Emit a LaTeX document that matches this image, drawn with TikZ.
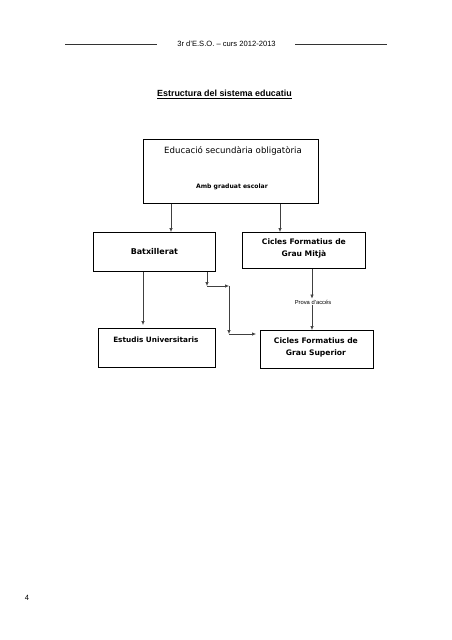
\documentclass[tikz,border=0pt]{standalone}
\usepackage{fontspec}
\setmainfont{Liberation Sans}
\newfontfamily\boxfont{DejaVu Sans}
\usetikzlibrary{arrows.meta,calc}
\begin{document}
\begin{tikzpicture}[x=1pt,y=-1pt,
  box/.style={draw,line width=0.8pt,anchor=north west,inner sep=0pt},
  conn/.style={draw=black!75,line width=0.6pt,-{Latex[length=4pt,width=3.4pt]}},
  btxt/.style={font=\boxfont\fontsize{7.6}{11.5}\selectfont\bfseries,align=center,inner sep=0pt},
  rule/.style={line width=0.8pt,black!80}]
\useasboundingbox (0,0) rectangle (452,640);
% header
\node[font=\fontsize{7.6}{9}\selectfont,inner sep=0pt] (hdr) at (226.5,44) {3r d'E.S.O. – curs 2012-2013};
\draw[rule] (65,44) -- (157,44);
\draw[rule] (295,44) -- (387,44);
\node[font=\fontsize{8.9}{10}\selectfont\bfseries,inner sep=0pt] (ttl) at (224.5,93) {Estructura del sistema educatiu};
\draw[line width=0.5pt] (ttl.south west) ++(0,1.3) -- ($(ttl.south east)+(0,1.3)$);
\node[font=\fontsize{7.6}{9}\selectfont,inner sep=0pt] (pg) at (27,598) {4};
% boxes
\node[box,minimum width=175pt,minimum height=64pt] (eso) at (143,139) {};
\node[font=\boxfont\fontsize{8.6}{10}\selectfont,inner sep=0pt] (esot) at (233,151) {Educació secundària obligatòria};
\node[font=\boxfont\fontsize{6.1}{7}\selectfont\bfseries,inner sep=0pt] (esot2) at (232,187) {Amb graduat escolar};
\node[box,minimum width=122pt,minimum height=39pt] (bat) at (93,232) {};
\node[btxt,font=\boxfont\fontsize{8.0}{11.5}\selectfont\bfseries] at (bat.center) {Batxillerat};
\node[box,minimum width=123pt,minimum height=36pt] (cfgm) at (242,232) {};
\node[btxt] at ($(cfgm.center)+(0,-2)$) {Cicles Formatius de\\Grau Mitjà};
\node[box,minimum width=117pt,minimum height=39pt] (eu) at (98,328) {};
\node[btxt,font=\boxfont\fontsize{7.3}{11.5}\selectfont\bfseries] at ($(eu.north)+(-1,12)$) {Estudis Universitaris};
\node[box,minimum width=113pt,minimum height=38pt] (cfgs) at (260,330) {};
\node[btxt] at ($(cfgs.center)+(-1,-2)$) {Cicles Formatius de\\Grau Superior};
\node[font=\fontsize{5.8}{7}\selectfont,inner sep=1pt] (prova) at (313,302) {Prova d'accés};
% helper coordinates
\coordinate (xa) at (171,0);
\coordinate (xb) at (280,0);
\coordinate (xc) at (143,0);
\coordinate (xd) at (312,0);
\coordinate (j1) at (207,286);
\coordinate (j2) at (229,286);
\coordinate (j3) at (229,334);
\coordinate (j4) at (256,334);
% connectors
\draw[conn] (eso.south -| xa) -- (bat.north -| xa);
\draw[conn] (eso.south -| xb) -- (cfgm.north -| xb);
\draw[conn] (bat.south -| xc) -- ($(eu.north -| xc)+(0,-3)$);
\draw[conn] (cfgm.south -| xd) -- (prova.north -| xd);
\draw[conn] (prova.south -| xd) -- (cfgs.north -| xd);
\draw[conn] (bat.south -| j1) -- (j1);
\draw[conn] (j1) -- (j2);
\draw[conn] (j2) -- (j3);
\draw[conn] (j3) -- (j4);
\end{tikzpicture}
\end{document}
